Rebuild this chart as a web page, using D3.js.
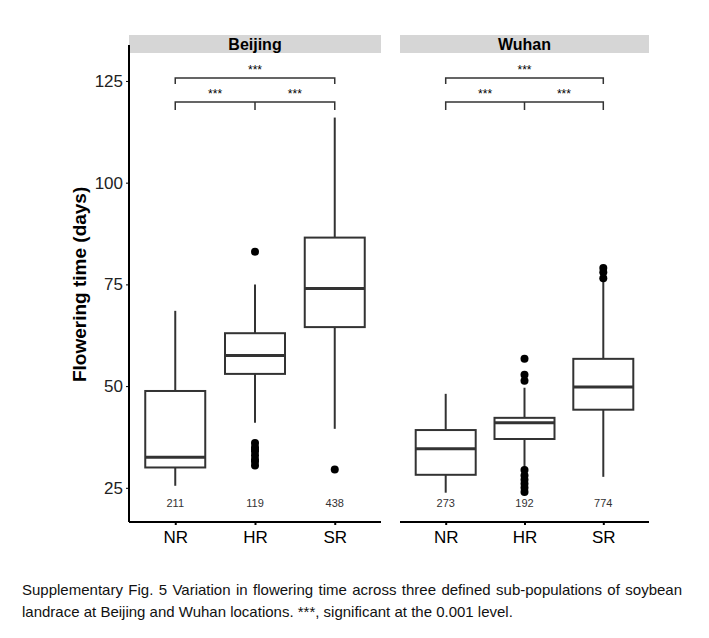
<!DOCTYPE html>
<html><head><meta charset="utf-8">
<script src="https://cdn.jsdelivr.net/npm/d3@7"></script>
<style>
body{margin:0;background:#fff;font-family:"Liberation Sans",Arial,sans-serif;}
#cap{position:absolute;left:22px;top:579px;width:660px;font-size:15px;line-height:22px;text-align:justify;text-align-last:left;color:#111;}
</style></head>
<body>
<svg id="chart" width="709" height="570"></svg>
<div id="cap">Supplementary Fig. 5 Variation in flowering time across three defined sub-populations of soybean landrace at Beijing and Wuhan locations. ***, significant at the 0.001 level.</div>
<script>
var locations = ["Beijing", "Wuhan"];
var groups = ["NR", "HR", "SR"];
var yTicks = [25, 50, 75, 100, 125];
// [whiskerLow, q1, median, q3, whiskerHigh]
var beijingStats = [[25.5, 30, 32.5, 48.8, 68.5], [41, 53, 57.5, 63, 75], [39.5, 64.5, 74, 86.5, 116]];
var wuhanStats = [[23.8, 28.2, 34.6, 39.2, 48.1], [28.7, 37, 41, 42.2, 49.6], [27.7, 44.2, 49.8, 56.7, 75.8]];
var beijingOutliers = [[], [83, 36, 35, 34.5, 34, 33, 32, 31.5, 30.5], [29.5]];
var wuhanOutliers = [[], [56.7, 52.8, 51.3, 29.4, 28, 27, 26, 25, 24], [79, 78, 76.5]];
var beijingCounts = [211, 119, 438];
var wuhanCounts = [273, 192, 774];
var sigLabel = "***";

var svg = d3.select("#chart");
var y = d3.scaleLinear().domain([16.6, 135.8]).range([522, 37]);
var panels = [
  {name: locations[0], x0: 129, x1: 381, stats: beijingStats, out: beijingOutliers, n: beijingCounts},
  {name: locations[1], x0: 400, x1: 649, stats: wuhanStats, out: wuhanOutliers, n: wuhanCounts}
];
var boxW = 60;

panels.forEach(function(p, i) {
  var x = d3.scalePoint().domain(groups).range([p.x0, p.x1]).padding(0.58);
  var g = svg.append("g");
  g.append("rect").attr("x", p.x0).attr("y", 35).attr("width", p.x1 - p.x0).attr("height", 18).attr("fill", "#d6d6d6");
  g.append("text").attr("x", (p.x0 + p.x1) / 2).attr("y", 50).attr("text-anchor", "middle")
    .attr("font-weight", "bold").attr("font-size", 16).text(p.name);

  // bottom axis
  var ax = g.append("g").attr("transform", "translate(0,522)").call(d3.axisBottom(x).tickSize(3).tickSizeOuter(0));
  ax.select(".domain").attr("stroke-width", 2).attr("d", "M" + p.x0 + ",0H" + p.x1);
  ax.selectAll("line").attr("stroke-width", 2);
  ax.selectAll("text").attr("font-size", 17).attr("dy", "0.9em").attr("font-family", "Liberation Sans, Arial, sans-serif").attr("fill", "#000");

  if (i === 0) {
    var ay = g.append("g").attr("transform", "translate(" + p.x0 + ",0)").call(d3.axisLeft(y).tickValues(yTicks).tickSize(3).tickSizeOuter(0));
    ay.select(".domain").attr("stroke-width", 2).attr("d", "M0,45V522");
    ay.selectAll("text").attr("font-size", 17).attr("font-family", "Liberation Sans, Arial, sans-serif").attr("fill", "#222");
    svg.append("text").attr("transform", "translate(86," + y(75) + ") rotate(-90)").attr("text-anchor", "middle")
      .attr("font-weight", "bold").attr("font-size", 19).text("Flowering time (days)");
  }

  groups.forEach(function(gr, j) {
    var s = p.stats[j], cx = x(gr);
    g.append("line").attr("x1", cx).attr("x2", cx).attr("y1", y(s[0])).attr("y2", y(s[1])).attr("stroke", "#333").attr("stroke-width", 2);
    g.append("line").attr("x1", cx).attr("x2", cx).attr("y1", y(s[3])).attr("y2", y(s[4])).attr("stroke", "#333").attr("stroke-width", 2);
    g.append("rect").attr("x", cx - boxW / 2).attr("width", boxW).attr("y", y(s[3])).attr("height", y(s[1]) - y(s[3]))
      .attr("fill", "#fff").attr("stroke", "#333").attr("stroke-width", 2);
    g.append("line").attr("x1", cx - boxW / 2).attr("x2", cx + boxW / 2).attr("y1", y(s[2])).attr("y2", y(s[2])).attr("stroke", "#333").attr("stroke-width", 3);
    g.selectAll(null).data(p.out[j]).enter().append("circle").attr("cx", cx).attr("cy", function(d) { return y(d); }).attr("r", 4).attr("fill", "#000");
    g.append("text").attr("x", cx).attr("y", 507).attr("text-anchor", "middle").attr("font-size", 11).attr("fill", "#333").text(p.n[j]);
  });

  // significance brackets
  var b = [x("NR"), x("HR"), x("SR")];
  var path = d3.path();
  path.moveTo(b[0], 84); path.lineTo(b[0], 78); path.lineTo(b[2], 78); path.lineTo(b[2], 84);
  path.moveTo(b[0], 110); path.lineTo(b[0], 102); path.lineTo(b[2], 102); path.lineTo(b[2], 110);
  path.moveTo(b[1], 102); path.lineTo(b[1], 110);
  g.append("path").attr("d", path.toString()).attr("fill", "none").attr("stroke", "#333").attr("stroke-width", 1.5);
  [[(b[0] + b[2]) / 2, 74], [(b[0] + b[1]) / 2, 98], [(b[1] + b[2]) / 2, 98]].forEach(function(q) {
    g.append("text").attr("x", q[0]).attr("y", q[1]).attr("text-anchor", "middle").attr("font-size", 12).text(sigLabel);
  });
});
</script>
</body></html>
